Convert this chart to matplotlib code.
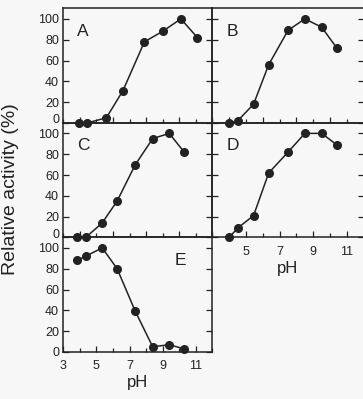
import matplotlib
matplotlib.use("Agg")
import matplotlib.pyplot as plt
import matplotlib.transforms as mtransforms
from matplotlib.ticker import MultipleLocator

plt.rcParams['font.family'] = ['Liberation Sans', 'DejaVu Sans']

# pH activity profiles
ph_A = [3.95, 4.45, 5.6, 6.6, 7.9, 9.0, 10.1, 11.1]
act_A = [0, 0, 5, 31, 78, 88, 100, 82]

ph_B = [4.0, 4.5, 5.45, 6.35, 7.5, 8.5, 9.5, 10.4]
act_B = [0, 2, 18, 56, 89, 100, 92, 72]

ph_C = [3.85, 4.35, 5.35, 6.25, 7.35, 8.4, 9.4, 10.3]
act_C = [0, 0, 14, 35, 70, 95, 100, 82]

ph_D = [4.0, 4.5, 5.45, 6.35, 7.5, 8.5, 9.5, 10.4]
act_D = [0, 9, 21, 62, 82, 100, 100, 89]

ph_E = [3.85, 4.35, 5.35, 6.25, 7.35, 8.4, 9.4, 10.3]
act_E = [88, 92, 100, 80, 39, 5, 7, 3]

panels = [
    ('A', ph_A, act_A),
    ('B', ph_B, act_B),
    ('C', ph_C, act_C),
    ('D', ph_D, act_D),
    ('E', ph_E, act_E),
]

ink = '#222222'
bg = '#f8f7f8'

fig = plt.figure(figsize=(3.63, 3.99), dpi=100, facecolor=bg)

col_x = [0.1744, 0.585]
col_w = [0.4105, 0.417]
row_y = [0.6918, 0.4048, 0.1178]
row_h = 0.287

# nudge the "0" labels up a bit so they sit clear of the "100" below
lift = mtransforms.ScaledTranslation(0, 4 / 100, fig.dpi_scale_trans)

for i, (name, x, y) in enumerate(panels):
    row, col = divmod(i, 2)
    ax = fig.add_axes([col_x[col], row_y[row], col_w[col], row_h])
    ax.set_facecolor('none')
    ax.plot(x, y, color=ink, lw=1.1, marker='o', ms=5.5,
            mfc=ink, mec=ink, clip_on=False, zorder=5)
    ax.set_xlim(3, 12)
    ax.set_ylim(0, 110)
    ax.xaxis.set_major_locator(MultipleLocator(2))
    ax.xaxis.set_minor_locator(MultipleLocator(1))
    ax.set_yticks([0, 20, 40, 60, 80, 100])
    ax.tick_params(axis='both', which='both', direction='in', color=ink,
                   labelcolor=ink, labelsize=9, width=0.9)
    ax.tick_params(axis='y', which='major', length=4, left=True, right=True, pad=3)
    ax.tick_params(axis='x', which='major', length=4, pad=6)
    ax.tick_params(axis='x', which='minor', length=3)
    for s in ax.spines.values():
        s.set_color(ink)
        s.set_linewidth(1.1)

    if col == 1:
        ax.tick_params(axis='y', labelleft=False)
    elif name != 'E':
        lab0 = ax.yaxis.get_major_ticks()[0].label1
        lab0.set_transform(lab0.get_transform() + lift)

    if name == 'E':
        ax.set_xticks([3, 5, 7, 9, 11])
        ax.set_xlabel('pH', fontsize=12, color=ink, labelpad=2)
    elif name == 'D':
        ax.set_xticks([5, 7, 9, 11])
        ax.set_xlabel('pH', fontsize=12, color=ink, labelpad=2)
    else:
        ax.tick_params(axis='x', labelbottom=False)

    if name == 'E':
        ax.text(9.7, 88, name, fontsize=12.5, color=ink, ha='left', va='center')
    else:
        ax.text(3.85, 88, name, fontsize=12.5, color=ink, ha='left', va='center')

fig.text(0.028, 0.525, 'Relative activity (%)', rotation=90, fontsize=14,
         color=ink, ha='center', va='center')

fig.savefig('out.png', dpi=100, facecolor=bg)
